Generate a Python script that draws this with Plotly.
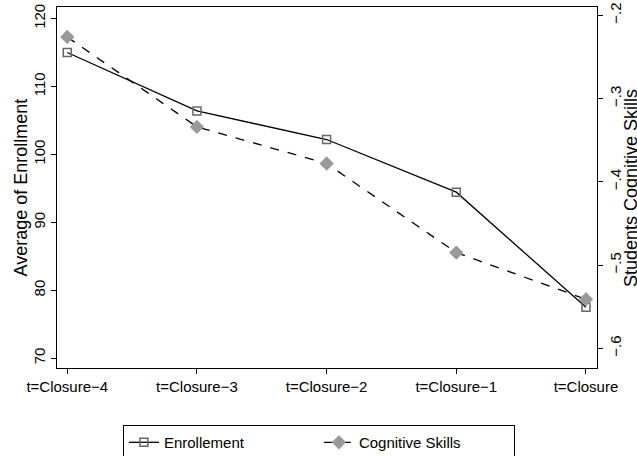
import plotly.graph_objects as go

categories = ["t=Closure\u22124", "t=Closure\u22123", "t=Closure\u22122", "t=Closure\u22121", "t=Closure"]
enrollment = [115.0, 106.4, 102.2, 94.45, 77.5]
cognitive = [-0.226, -0.334, -0.378, -0.485, -0.541]
left_ticks = [70, 80, 90, 100, 110, 120]
right_ticks = [-0.6, -0.5, -0.4, -0.3, -0.2]
right_ticktext = ["\u2212.6", "\u2212.5", "\u2212.4", "\u2212.3", "\u2212.2"]

xpos = list(range(len(categories)))
FONT = "Liberation Sans, Arial, sans-serif"

fig = go.Figure()
fig.add_trace(go.Scatter(
    x=xpos, y=enrollment, name="Enrollement", mode="lines+markers",
    line=dict(color="black", width=1.3),
    marker=dict(symbol="square-open", size=8, color="#666666", line=dict(width=1.5, color="#666666")),
))
fig.add_trace(go.Scatter(
    x=xpos, y=cognitive, name="Cognitive Skills", mode="lines+markers", yaxis="y2",
    line=dict(color="black", width=1.3, dash="dash"),
    marker=dict(symbol="diamond", size=11, color="#999999"),
))

fig.update_layout(
    width=637, height=456,
    margin=dict(l=57, r=40, t=7, b=88, autoexpand=False),
    plot_bgcolor="white", paper_bgcolor="white",
    font=dict(family=FONT, size=15, color="black"),
    showlegend=True,
    legend=dict(
        orientation="h", x=0.485, xanchor="center", y=-0.158, yanchor="top",
        bordercolor="black", borderwidth=1, font=dict(size=15),
        itemsizing="trace", entrywidth=150, entrywidthmode="pixels",
    ),
    xaxis=dict(
        tickmode="array", tickvals=xpos, ticktext=categories,
        range=[-0.079, 4.085], showgrid=False, zeroline=False,
        showline=True, linecolor="black", linewidth=1, mirror=True,
        ticks="outside", ticklen=5, tickcolor="black", tickfont=dict(size=15),
    ),
    yaxis=dict(
        tickmode="array", tickvals=left_ticks, range=[68.57, 121.7],
        showgrid=False, zeroline=False,
        showline=True, linecolor="black", linewidth=1, mirror=True,
        ticks="outside", ticklen=5, tickcolor="black", tickangle=-90,
        tickfont=dict(size=15),
    ),
    yaxis2=dict(
        overlaying="y", side="right",
        tickmode="array", tickvals=right_ticks, ticktext=right_ticktext,
        range=[-0.6236, -0.19], showgrid=False, zeroline=False,
        showline=False,
        ticks="outside", ticklen=5, tickcolor="black", tickangle=-90,
        tickfont=dict(size=15),
    ),
    annotations=[
        dict(text="Average of Enrollment", textangle=-90, xref="paper", yref="paper",
             x=-0.0685, y=0.5, xanchor="center", yanchor="middle", showarrow=False,
             font=dict(size=18)),
        dict(text="Students Cognitive Skills", textangle=-90, xref="paper", yref="paper",
             x=1.062, y=0.5, xanchor="center", yanchor="middle", showarrow=False,
             font=dict(size=18)),
    ],
)

fig.write_html("out.html", config={"displayModeBar": False},
               post_script="document.body.style.margin='0';")
